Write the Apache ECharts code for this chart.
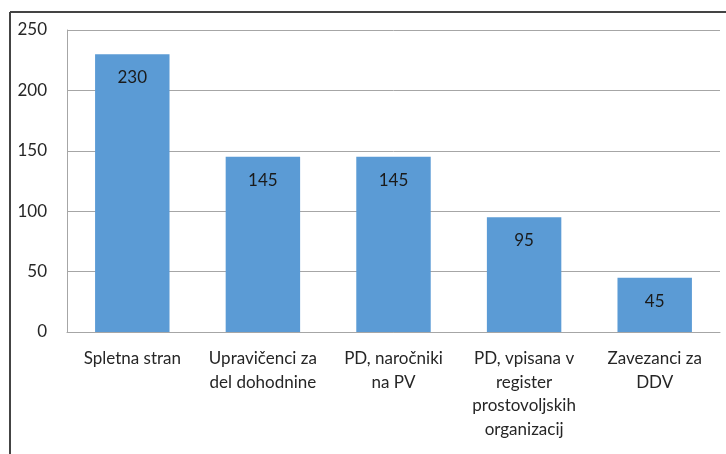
<!DOCTYPE html>
<html>
<head>
<meta charset="utf-8">
<script src="https://cdn.jsdelivr.net/npm/echarts@6/dist/echarts.min.js"></script>
<style>
  html, body { margin: 0; padding: 0; background: #fff; }
  #chart { width: 726px; height: 454px; }
</style>
</head>
<body>
<div id="chart"></div>
<script>
  // data
  const categories = [
    'Spletna stran',
    'Upravičenci za\ndel dohodnine',
    'PD, naročniki\nna PV',
    'PD, vpisana v\nregister\nprostovoljskih\norganizacij',
    'Zavezanci za\nDDV'
  ];
  const values = [230, 145, 145, 95, 45];
  const yTicks = { min: 0, max: 250, interval: 50 };

  const fontFamily = 'Lato, "Open Sans", sans-serif';
  const myChart = echarts.init(document.getElementById('chart'));

  const option = {
    animation: false,
    backgroundColor: '#fff',
    grid: { left: 67, right: 6, top: 30, bottom: 122 },
    graphic: [
      { type: 'line', shape: { x1: 10, y1: 12, x2: 726, y2: 12 }, style: { stroke: '#444', lineWidth: 2 } },
      { type: 'line', shape: { x1: 10, y1: 12, x2: 10, y2: 454 }, style: { stroke: '#444', lineWidth: 2 } }
    ],
    xAxis: {
      type: 'category',
      data: categories,
      axisLine: { show: true, lineStyle: { color: '#a6a6a6', width: 1 } },
      axisTick: { show: false },
      axisLabel: {
        interval: 0,
        margin: 15,
        color: '#262626',
        fontSize: 17,
        lineHeight: 23.5,
        fontFamily: fontFamily
      }
    },
    yAxis: {
      type: 'value',
      min: yTicks.min,
      max: yTicks.max,
      interval: yTicks.interval,
      axisLine: { show: true, lineStyle: { color: '#a6a6a6', width: 1 } },
      axisTick: { show: false },
      splitLine: { lineStyle: { color: '#a6a6a6', width: 1 } },
      axisLabel: {
        margin: 20,
        color: '#262626',
        fontSize: 17,
        fontFamily: fontFamily
      }
    },
    series: [{
      type: 'bar',
      data: values,
      barWidth: '57%',
      itemStyle: { color: '#5b9bd5' },
      label: {
        show: true,
        position: 'insideTop',
        distance: 15,
        color: '#1a1a1a',
        fontSize: 17,
        fontFamily: fontFamily
      }
    }]
  };

  myChart.setOption(option);
</script>
</body>
</html>
